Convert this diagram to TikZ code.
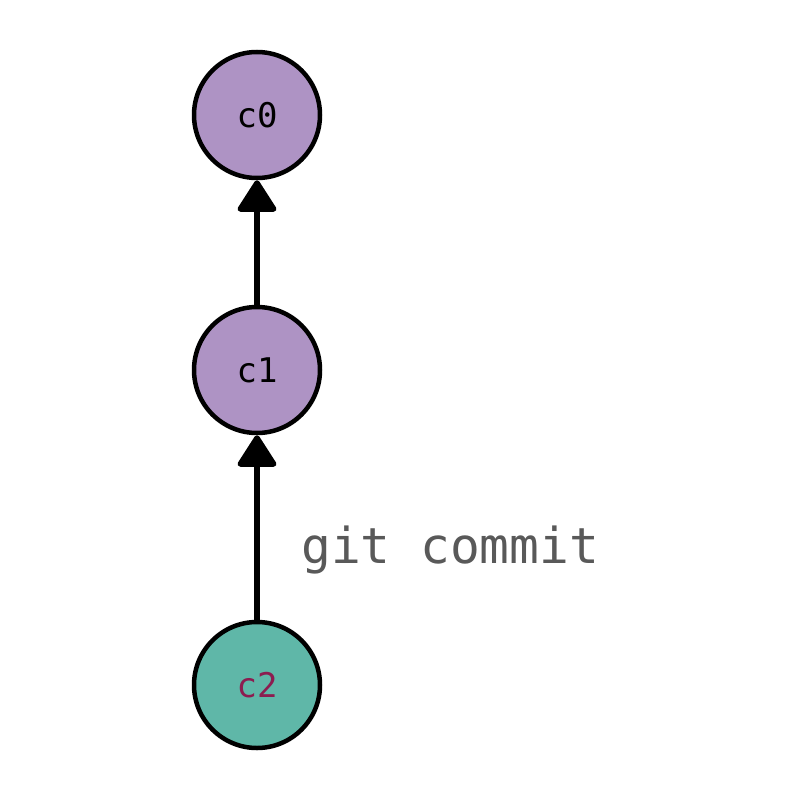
\documentclass[tikz,border=0pt]{standalone}
\usepackage{fontspec}
\setmonofont{DejaVu Sans Mono}
\usetikzlibrary{arrows.meta}
\definecolor{commitpurple}{HTML}{AE93C4}
\definecolor{committeal}{HTML}{5FB7A8}
\definecolor{labelwine}{HTML}{8C1C50}
\definecolor{cmdgray}{HTML}{595959}
\tikzset{
  commit/.style={circle, draw=black, line width=4.5pt, minimum size=126pt, inner sep=0pt,
    font=\ttfamily\fontsize{34}{34}\selectfont, text=black},
  parent/.style={line width=5.5pt, -{Triangle[width=42pt,length=34pt,round]}, shorten >=0pt},
  cmd/.style={font=\ttfamily\fontsize{49.5}{50}\selectfont, text=cmdgray, inner sep=0pt, anchor=base west}
}
\begin{document}
\begin{tikzpicture}[x=1pt,y=-1pt]
\useasboundingbox (0,0) rectangle (800,800);
\node[commit, fill=commitpurple] (c0) at (257,115) {c0};
\node[commit, fill=commitpurple] (c1) at (257,370) {c1};
\node[commit, fill=committeal, text=labelwine] (c2) at (257,685) {c2};
\draw[parent] (c1) -- (c0);
\draw[parent] (c2) -- (c1);
\node[cmd] (cmdtext) at (301,563) {git commit};
\end{tikzpicture}
\end{document}
